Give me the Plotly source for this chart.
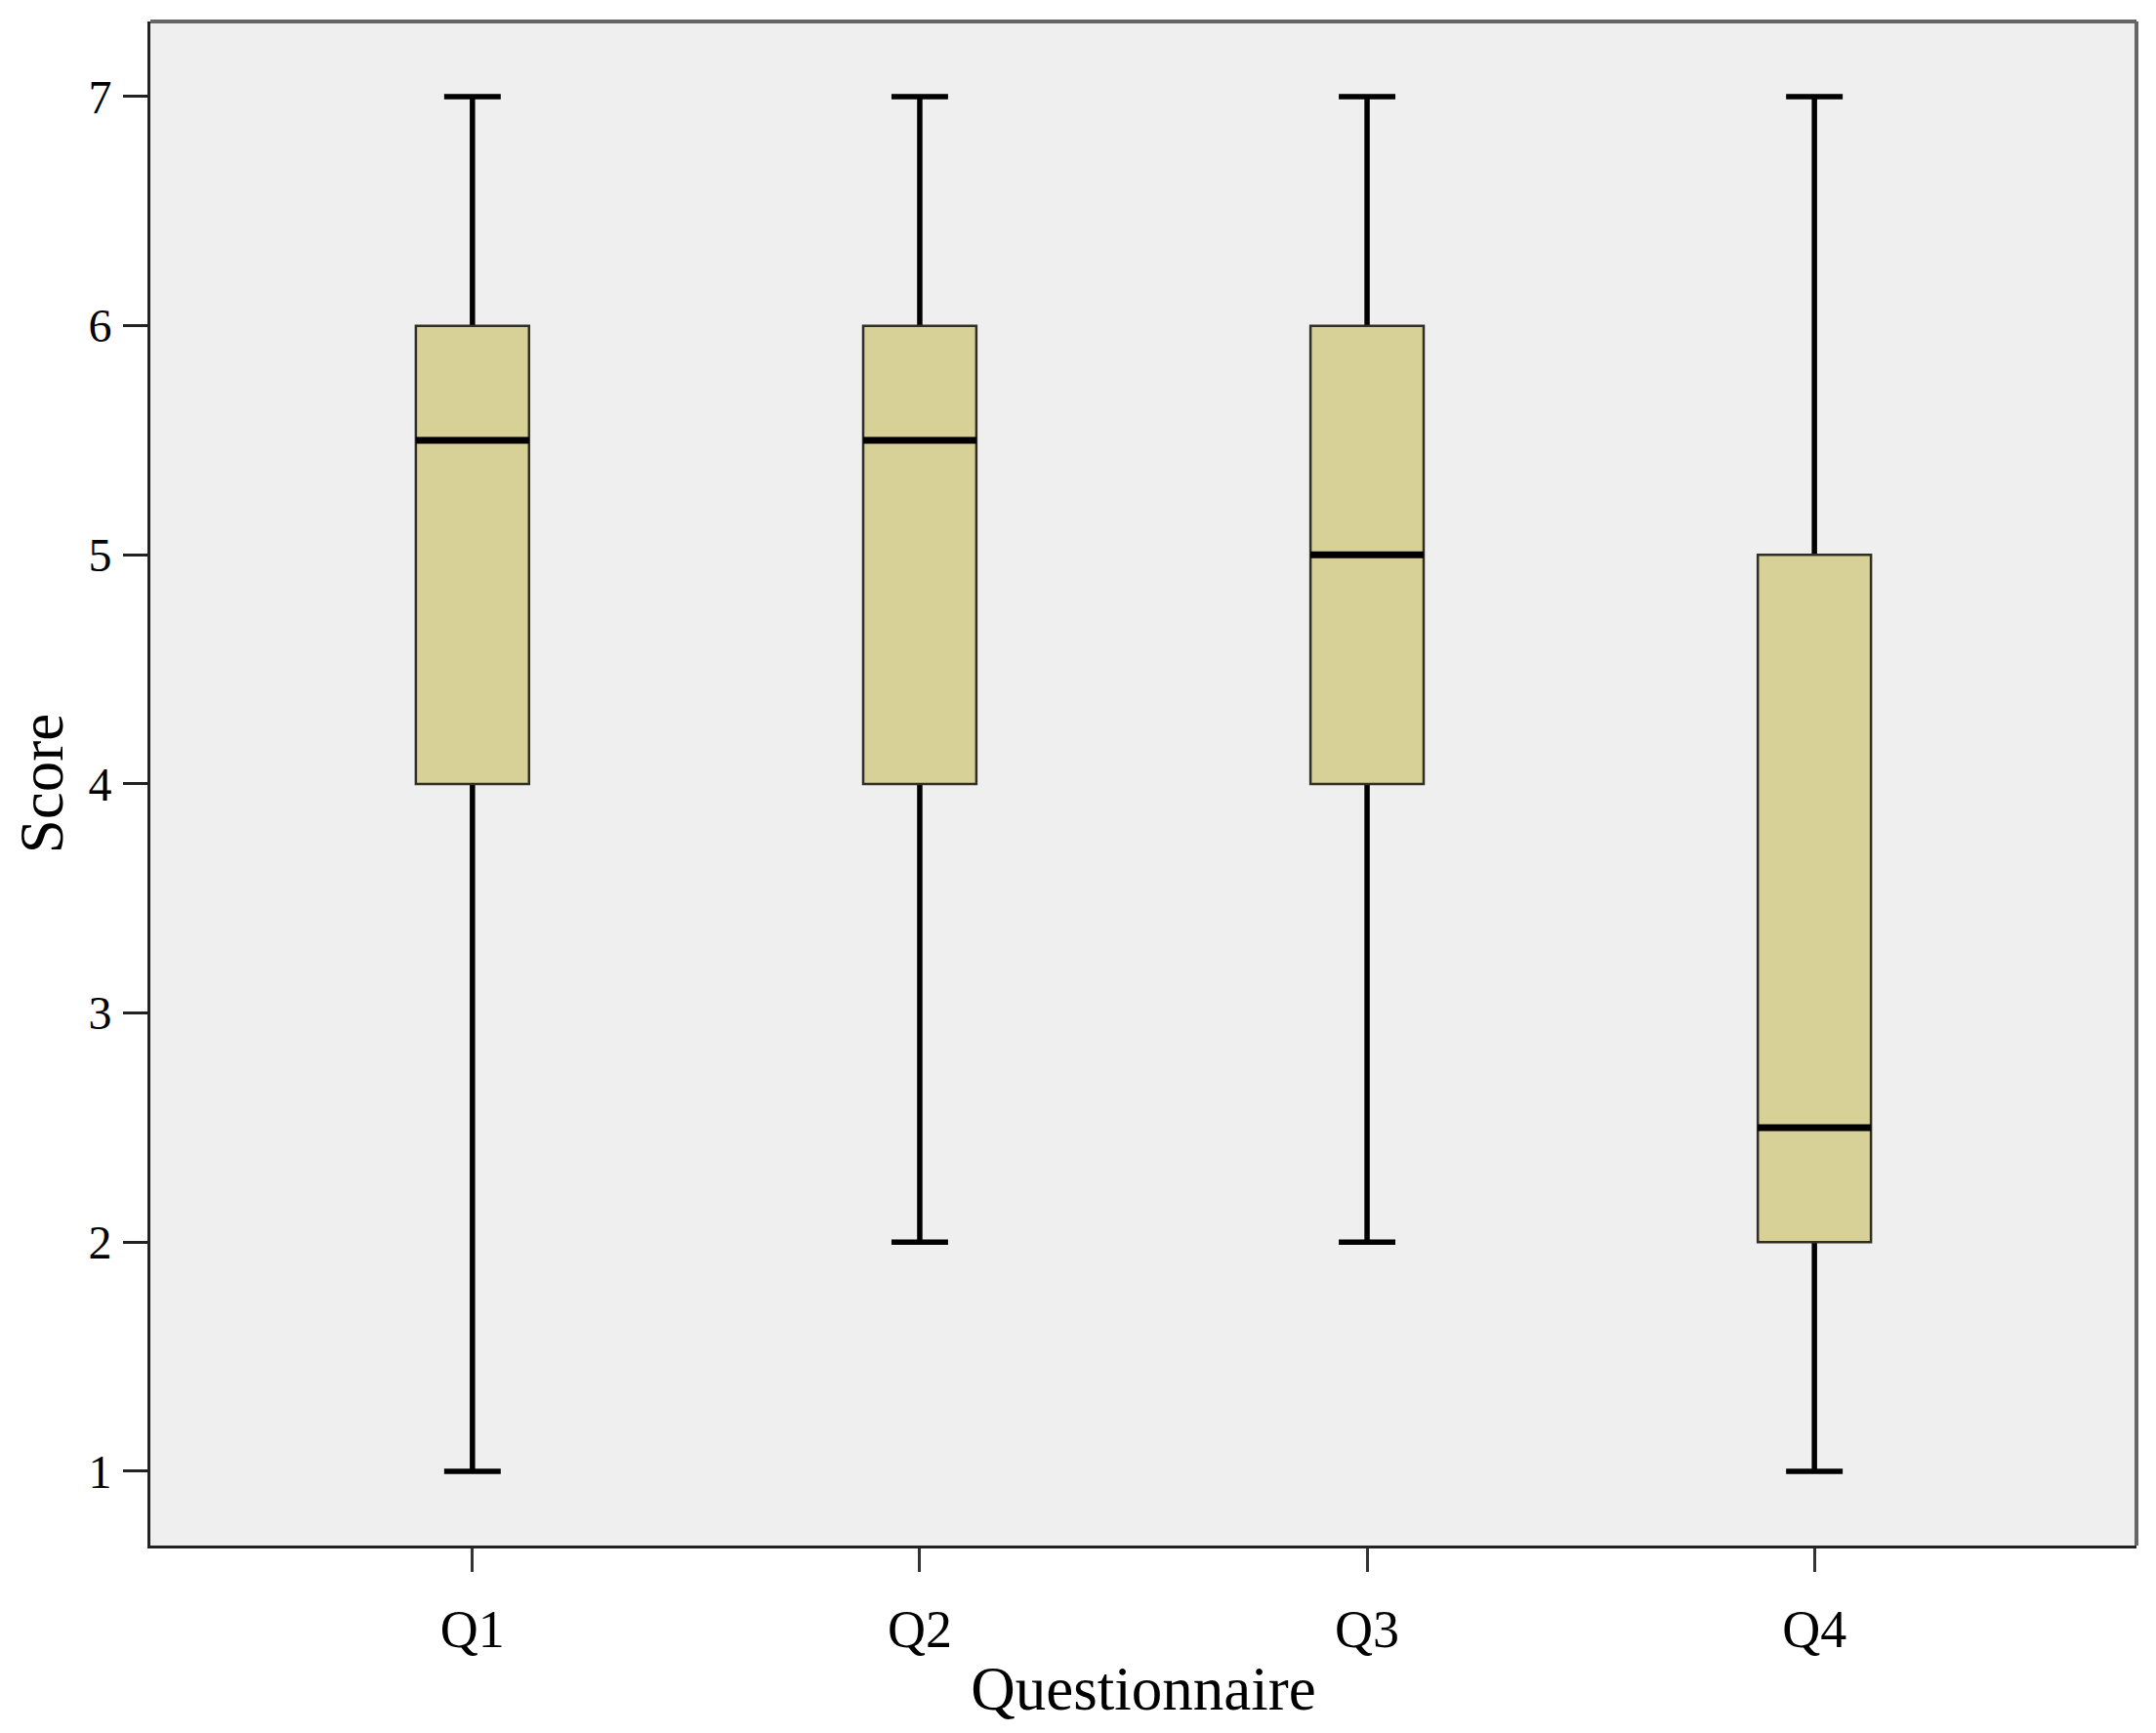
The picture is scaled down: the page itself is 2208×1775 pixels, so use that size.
import plotly.graph_objects as go

categories = ["Q1", "Q2", "Q3", "Q4"]
lower_fence = [1, 2, 2, 1]
q1_values = [4, 4, 4, 2]
median_values = [5.5, 5.5, 5, 2.5]
q3_values = [6, 6, 6, 5]
upper_fence = [7, 7, 7, 7]
y_ticks = [1, 2, 3, 4, 5, 6, 7]

BOX_W = 0.253
FILL = "#d7d097"
FONT = "Liberation Serif"

fig = go.Figure()

# thick whiskers + caps (degenerate box at the median, drawn beneath)
fig.add_trace(go.Box(
    x=categories, q1=median_values, median=median_values, q3=median_values,
    lowerfence=lower_fence, upperfence=upper_fence,
    width=BOX_W, whiskerwidth=0.5, fillcolor="rgba(0,0,0,0)",
    line=dict(color="black", width=5.5), boxpoints=False,
    showlegend=False, hoverinfo="skip",
))
# filled box with thin outline
fig.add_trace(go.Box(
    x=categories, q1=q1_values, median=median_values, q3=q3_values,
    lowerfence=q1_values, upperfence=q3_values,
    width=BOX_W, whiskerwidth=0.5, fillcolor=FILL,
    line=dict(color="#2f2f25", width=2.5), boxpoints=False,
    showlegend=False, hoverinfo="skip",
))
# thick median line
fig.add_trace(go.Box(
    x=categories, q1=median_values, median=median_values, q3=median_values,
    lowerfence=median_values, upperfence=median_values,
    width=BOX_W, whiskerwidth=0, fillcolor="rgba(0,0,0,0)",
    line=dict(color="black", width=7), boxpoints=False,
    showlegend=False, hoverinfo="skip",
))

fig.update_layout(
    width=2208, height=1775,
    margin=dict(l=146, r=28, t=14, b=200),
    paper_bgcolor="white", plot_bgcolor="#efefef",
    boxmode="overlay",
    font=dict(family=FONT, color="black"),
    xaxis=dict(
        type="category", categoryorder="array", categoryarray=categories,
        range=[-0.72, 3.72], showgrid=False, zeroline=False,
        showline=True, linecolor="#222", linewidth=3,
        ticks="outside", ticklen=24, tickwidth=3, tickcolor="#333",
        tickfont=dict(family=FONT, size=54), ticklabelstandoff=12,
        title=dict(text="Questionnaire", font=dict(family=FONT, size=63), standoff=10),
    ),
    yaxis=dict(
        range=[0.676, 7.328], tickvals=y_ticks, showgrid=False, zeroline=False,
        showline=True, linecolor="#222", linewidth=3,
        ticks="outside", ticklen=25, tickwidth=3, tickcolor="#222",
        tickfont=dict(family=FONT, size=48), ticklabelstandoff=2,
        title=dict(text="Score", font=dict(family=FONT, size=63), standoff=20),
    ),
    shapes=[
        dict(type="line", xref="paper", yref="paper", x0=0, x1=1, y0=1, y1=1,
             line=dict(color="#666", width=4)),
        dict(type="line", xref="paper", yref="paper", x0=1, x1=1, y0=0, y1=1,
             line=dict(color="#666", width=4)),
    ],
)

fig.write_html("out.html")
